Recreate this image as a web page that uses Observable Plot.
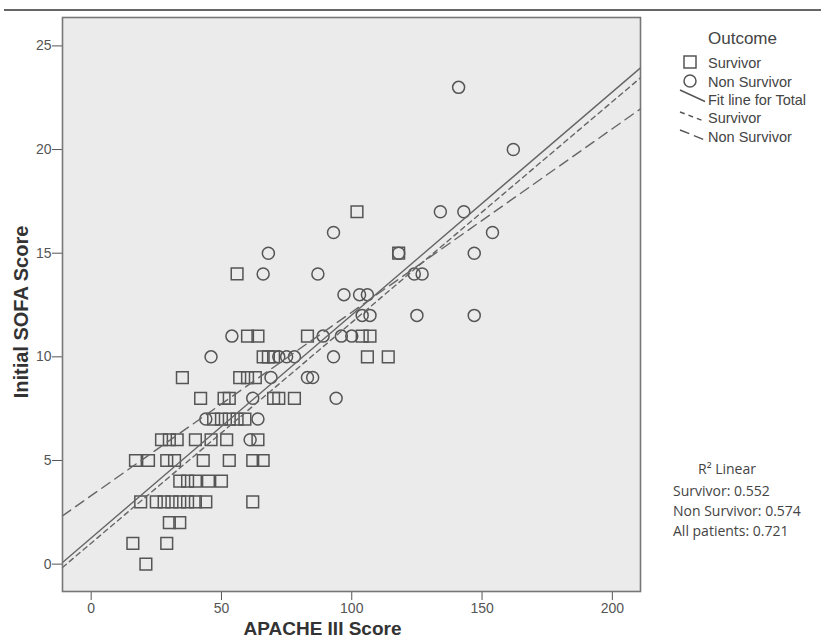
<!DOCTYPE html>
<html>
<head>
<meta charset="utf-8">
<script src="https://cdn.jsdelivr.net/npm/d3@7"></script>
<script src="https://cdn.jsdelivr.net/npm/@observablehq/plot@0.6"></script>
<style>
  body { margin: 0; background: #fff; }
  #chart { position: relative; width: 821px; height: 639px; overflow: hidden; }
</style>
</head>
<body>
<div id="chart"></div>
<script>
// ---- data ----
const survivorApache = [21,16,29,30,34,19,25,28,31,34,37,40,44,62,34,37,40,45,50,17,22,29,32,43,53,62,66,27,30,33,40,46,52,64,47,50,53,56,59,42,51,53,70,72,78,35,57,60,63,66,68,70,106,114,60,64,83,104,107,56,118,102];
const survivorSofa   = [0,1,1,2,2,3,3,3,3,3,3,3,3,3,4,4,4,4,4,5,5,5,5,5,5,5,5,6,6,6,6,6,6,6,7,7,7,7,7,8,8,8,8,8,8,9,9,9,9,10,10,10,10,10,11,11,11,11,11,14,15,17];
const nonSurvivorApache = [61,44,64,62,94,69,83,85,46,72,75,78,93,54,89,96,100,104,107,125,147,97,103,106,66,87,124,127,68,118,147,93,154,134,143,162,141];
const nonSurvivorSofa   = [6,7,7,8,8,9,9,9,10,10,10,10,10,11,11,11,11,12,12,12,12,13,13,13,14,14,14,14,15,15,15,16,16,17,17,20,23];

// fit lines: values at the left and right ends of the x range
const fitApache = [-11, 210.8];
const fitTotal = [0.08, 23.94];
const fitSurvivor = [-0.16, 23.46];
const fitNonSurvivor = [2.33, 21.96];

const xDomain = [-11, 210.8];
const yDomain = [-1.32, 26.37];
const xTicks = [0, 50, 100, 150, 200];
const yTicks = [0, 5, 10, 15, 20, 25];

const legendTitle = "Outcome";
const legendLabels = ["Survivor", "Non Survivor", "Fit line for Total", "Survivor", "Non Survivor"];
const r2Title = "R² Linear";
const r2Lines = ["Survivor: 0.552", "Non Survivor: 0.574", "All patients: 0.721"];
const xTitle = "APACHE III Score";
const yTitle = "Initial SOFA Score";

// ---- build ----
const survivors = survivorApache.map((x, i) => ({x, y: survivorSofa[i]}));
const nonSurvivors = nonSurvivorApache.map((x, i) => ({x, y: nonSurvivorSofa[i]}));
const toLine = ys => fitApache.map((x, i) => ({x, y: ys[i]}));

const chart = Plot.plot({
  width: 821,
  height: 639,
  marginLeft: 62,
  marginRight: 181,
  marginTop: 17,
  marginBottom: 48,
  style: {fontFamily: "'Liberation Sans', Arial, sans-serif", fontSize: "14px", color: "#555", background: "#fff"},
  x: {domain: xDomain, ticks: xTicks, tickSize: 9, tickPadding: 3, label: null},
  y: {domain: yDomain, ticks: yTicks, tickSize: 10, tickPadding: 1, label: null},
  marks: [
    Plot.frame({fill: "#ebebeb", stroke: null}),
    Plot.dot(survivors, {x: "x", y: "y", symbol: "square", r: 6.6, stroke: "#555", strokeWidth: 1.5, fill: "none"}),
    Plot.dot(nonSurvivors, {x: "x", y: "y", symbol: "circle", r: 6, stroke: "#555", strokeWidth: 1.5, fill: "none"}),
    Plot.line(toLine(fitTotal), {x: "x", y: "y", stroke: "#666", strokeWidth: 1.4}),
    Plot.line(toLine(fitSurvivor), {x: "x", y: "y", stroke: "#666", strokeWidth: 1.4, strokeDasharray: "5,4"}),
    Plot.line(toLine(fitNonSurvivor), {x: "x", y: "y", stroke: "#666", strokeWidth: 1.4, strokeDasharray: "10,6"}),
    Plot.frame({stroke: "#777", strokeWidth: 1.6})
  ]
});
document.getElementById("chart").appendChild(chart);

const svg = d3.select(chart);
// top rule
svg.append("line").attr("x1", 4).attr("x2", 821).attr("y1", 10).attr("y2", 10)
  .attr("stroke", "#333").attr("stroke-width", 1.5);

// axis titles
svg.append("text").text(xTitle)
  .attr("x", 322.5).attr("y", 635).attr("text-anchor", "middle")
  .attr("font-family", "'Liberation Sans', Arial, sans-serif").attr("font-weight", "bold")
  .attr("font-size", 19).attr("fill", "#333");
svg.append("text").text(yTitle)
  .attr("transform", "translate(28,312) rotate(-90)").attr("text-anchor", "middle")
  .attr("font-family", "'Liberation Sans', Arial, sans-serif").attr("font-weight", "bold")
  .attr("font-size", 20).attr("fill", "#333");

// legend
const lg = svg.append("g").attr("font-family", "'Liberation Sans', Arial, sans-serif")
  .attr("fill", "#444").attr("text-anchor", "start");
lg.append("text").text(legendTitle).attr("x", 708).attr("y", 44).attr("font-size", 17);
const baselines = [68, 86.5, 105, 123, 141.5];
legendLabels.forEach((t, i) => lg.append("text").text(t).attr("x", 708).attr("y", baselines[i]).attr("font-size", 14.5));
lg.append("rect").attr("x", 684).attr("y", 56).attr("width", 12).attr("height", 12)
  .attr("fill", "none").attr("stroke", "#555").attr("stroke-width", 1.5);
lg.append("circle").attr("cx", 690).attr("cy", 81).attr("r", 6)
  .attr("fill", "none").attr("stroke", "#555").attr("stroke-width", 1.5);
lg.append("line").attr("x1", 680).attr("y1", 90).attr("x2", 705).attr("y2", 101.5)
  .attr("stroke", "#555").attr("stroke-width", 1.4);
lg.append("line").attr("x1", 680).attr("y1", 112).attr("x2", 705).attr("y2", 121.5)
  .attr("stroke", "#555").attr("stroke-width", 1.4).attr("stroke-dasharray", "5,4");
lg.append("line").attr("x1", 680).attr("y1", 130).attr("x2", 705).attr("y2", 140)
  .attr("stroke", "#555").attr("stroke-width", 1.4).attr("stroke-dasharray", "10,5");

// R² block
const rg = svg.append("g").attr("font-family", "'Open Sans', sans-serif").attr("font-size", 14)
  .attr("fill", "#444").attr("text-anchor", "start");
rg.append("text").text(r2Title).attr("x", 698).attr("y", 474);
r2Lines.forEach((t, i) => rg.append("text").text(t).attr("x", 673).attr("y", 496 + 20 * i));
</script>
</body>
</html>
